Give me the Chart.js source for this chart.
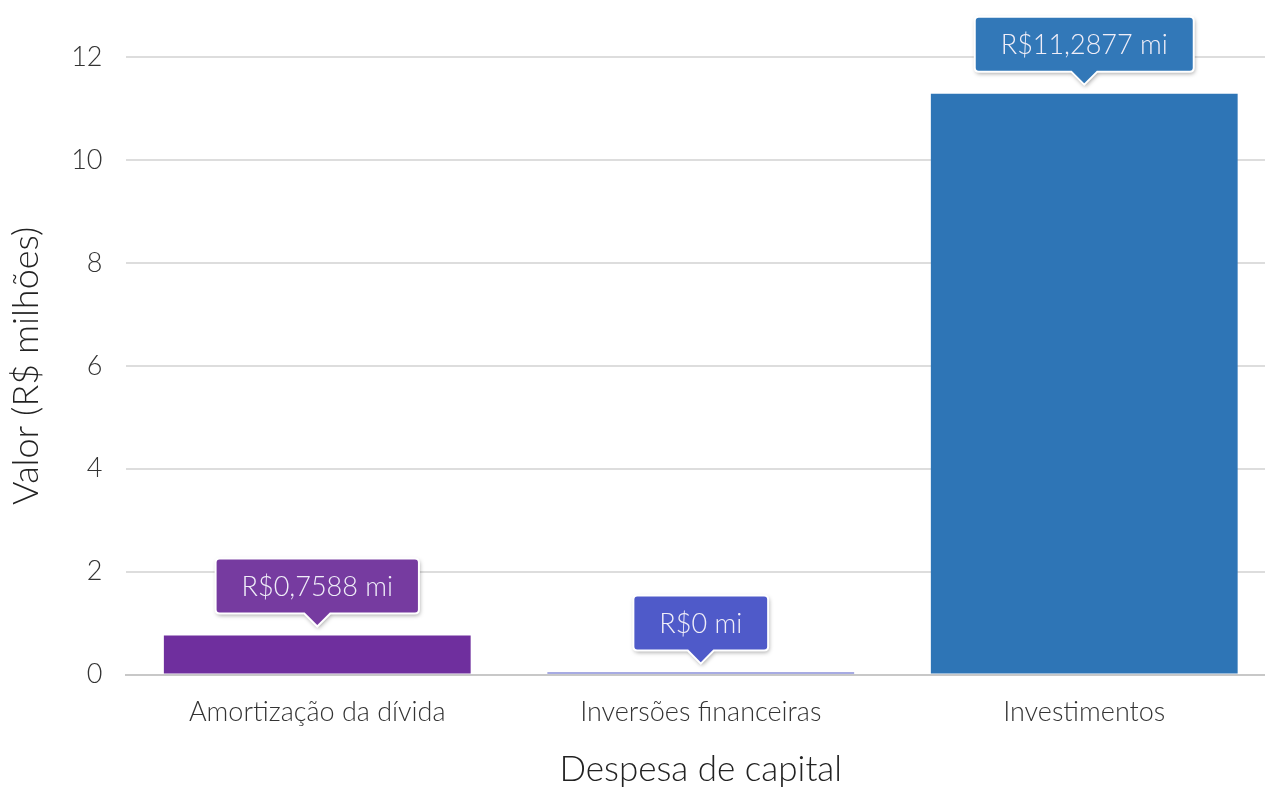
<!DOCTYPE html>
<html>
<head>
<meta charset="utf-8">
<script src="https://cdn.jsdelivr.net/npm/chart.js@4"></script>
<style>
  html, body { margin: 0; padding: 0; background: #fff; overflow: hidden; }
  #wrap { width: 1265px; height: 787px; overflow: hidden; }
  #inner { width: 1276px; height: 787px; }
</style>
</head>
<body>
<div id="wrap"><div id="inner"><canvas id="chart"></canvas></div></div>
<script>
// categories and values (R$ millions)
const categories = ["Amortização da dívida", "Inversões financeiras", "Investimentos"];
const values = [0.7588, 0, 11.2877];
const valueLabels = ["R$0,7588 mi", "R$0 mi", "R$11,2877 mi"];
const barColors = ["#6f2f9e", "#5058c8", "#2e75b6"];
const labelColors = ["#763ba0", "#4f5ac9", "#3278b8"];

const FONT = "Lato, 'Open Sans', sans-serif";

/* ── Callout labels above the bars ─────────────────────────*/
const calloutPlugin = {
  id: "callout",
  afterDatasetsDraw(chart) {
    const ctx = chart.ctx;
    const meta = chart.getDatasetMeta(0);
    meta.data.forEach((bar, i) => {
      const txt = valueLabels[i];
      ctx.save();
      ctx.font = "300 27px " + FONT;
      const w = ctx.measureText(txt).width + 52;
      const h = 55;
      const tipY = bar.y - 9;
      const boxBottom = tipY - 13;
      const x0 = bar.x - w / 2;
      const y0 = boxBottom - h;

      ctx.beginPath();
      const r = 4;
      ctx.moveTo(x0 + r, y0);
      ctx.lineTo(x0 + w - r, y0);
      ctx.quadraticCurveTo(x0 + w, y0, x0 + w, y0 + r);
      ctx.lineTo(x0 + w, boxBottom - r);
      ctx.quadraticCurveTo(x0 + w, boxBottom, x0 + w - r, boxBottom);
      ctx.lineTo(bar.x + 13, boxBottom);
      ctx.lineTo(bar.x, tipY);
      ctx.lineTo(bar.x - 13, boxBottom);
      ctx.lineTo(x0 + r, boxBottom);
      ctx.quadraticCurveTo(x0, boxBottom, x0, boxBottom - r);
      ctx.lineTo(x0, y0 + r);
      ctx.quadraticCurveTo(x0, y0, x0 + r, y0);
      ctx.closePath();

      ctx.shadowColor = "rgba(0,0,0,0.35)";
      ctx.shadowBlur = 4;
      ctx.shadowOffsetX = 1;
      ctx.shadowOffsetY = 2;
      ctx.fillStyle = labelColors[i];
      ctx.fill();
      ctx.shadowColor = "transparent";
      ctx.lineWidth = 2;
      ctx.strokeStyle = "#ffffff";
      ctx.stroke();

      ctx.fillStyle = "#f0eef8";
      ctx.textAlign = "center";
      ctx.textBaseline = "middle";
      ctx.fillText(txt, bar.x, y0 + h / 2 + 1);
      ctx.restore();
    });
  }
};

new Chart(document.getElementById("chart"), {
  type: "bar",
  data: {
    labels: categories,
    datasets: [{
      data: values,
      backgroundColor: barColors,
      borderWidth: 0,
      minBarLength: 2,
      barPercentage: 0.8,
      categoryPercentage: 1
    }]
  },
  options: {
    responsive: true,
    maintainAspectRatio: false,
    animation: false,
    layout: { padding: { top: 57, right: 0, left: 1, bottom: -4 } },
    plugins: {
      legend: { display: false },
      tooltip: { enabled: false }
    },
    scales: {
      x: {
        grid: { display: false, drawTicks: false },
        border: { color: "#c8c8c8", width: 2 },
        ticks: { color: "#333", padding: 21, font: { family: FONT, size: 27, weight: 300 } },
        title: { display: true, text: "Despesa de capital", color: "#222", padding: { top: 0, bottom: 0 }, font: { family: FONT, size: 35, weight: 300 } }
      },
      y: {
        min: 0, max: 12,
        ticks: { stepSize: 2, color: "#333", padding: 23, font: { family: FONT, size: 27, weight: 300 } },
        grid: { color: "#dddddd", lineWidth: 2, drawTicks: false },
        border: { display: false },
        title: { display: true, text: "Valor (R$ milhões)", color: "#222", padding: { top: 4, bottom: 0 }, font: { family: FONT, size: 36, weight: 300 } }
      }
    }
  },
  plugins: [calloutPlugin]
});
</script>
</body>
</html>
